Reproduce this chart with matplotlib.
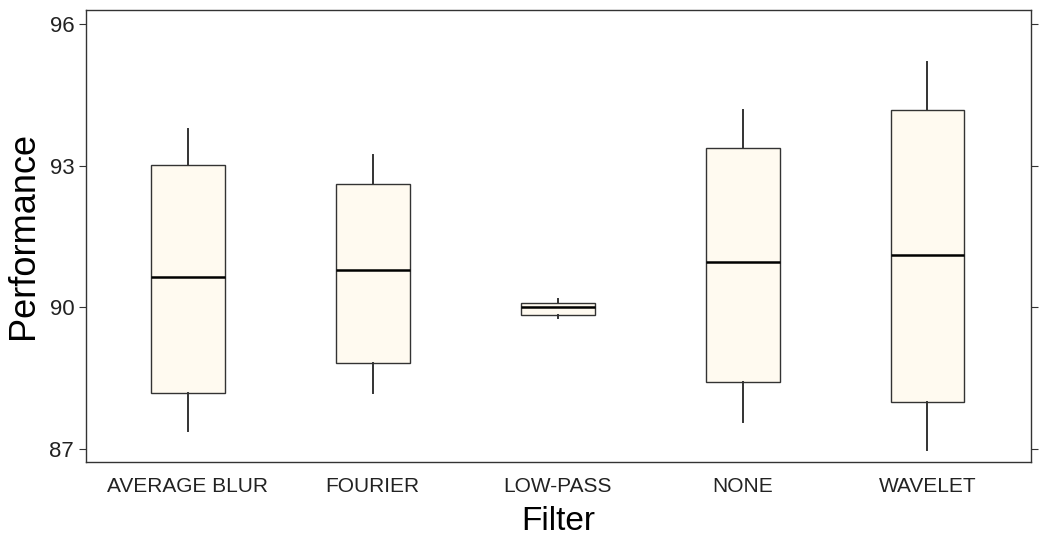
import matplotlib
matplotlib.use("Agg")
import matplotlib.pyplot as plt

plt.rcParams['font.family'] = ['Liberation Sans', 'DejaVu Sans']

# box-plot summaries
filters = ["AVERAGE BLUR", "FOURIER", "LOW-PASS", "NONE", "WAVELET"]
whisker_low = [87.38, 88.18, 89.77, 87.57, 86.97]
q1 = [88.18, 88.82, 89.84, 88.41, 88.00]
median = [90.65, 90.78, 90.01, 90.95, 91.11]
q3 = [93.01, 92.62, 90.10, 93.38, 94.18]
whisker_high = [93.78, 93.22, 90.17, 94.19, 95.19]
yticks = [87, 90, 93, 96]

stats = []
for i, name in enumerate(filters):
    stats.append(dict(label=name, whislo=whisker_low[i], q1=q1[i], med=median[i],
                      q3=q3[i], whishi=whisker_high[i], fliers=[]))

fig = plt.figure(figsize=(10.44, 5.42), dpi=100)
ax = fig.add_axes([0.0824, 0.1476, 0.9052, 0.834])

edge = "#333333"
ax.bxp(stats, positions=range(1, len(filters) + 1), widths=0.4,
       showcaps=False, patch_artist=True,
       boxprops=dict(facecolor="#FFFAF0", edgecolor=edge, linewidth=1.0),
       whiskerprops=dict(color=edge, linewidth=1.4),
       medianprops=dict(color="black", linewidth=1.8))

ax.set_xlim(0.45, 5.56)
ax.set_ylim(86.72, 96.3)
ax.set_yticks(yticks)
ax.set_yticklabels([str(t) for t in yticks], fontsize=16, color="#222222")
ax.tick_params(axis='x', length=0, labelsize=15, pad=11, labelcolor="#222222")
ax.tick_params(axis='y', length=5, color=edge, right=True, labelright=False)
for s in ax.spines.values():
    s.set_color(edge)
    s.set_linewidth(1.0)

ax.set_xlabel("Filter", fontsize=24, labelpad=7)
ax.set_ylabel("Performance", fontsize=26, labelpad=6)

fig.savefig("out.png", dpi=100)
